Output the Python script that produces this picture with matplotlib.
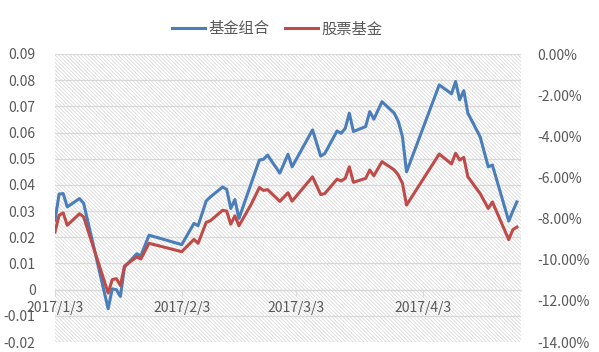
import numpy as np
import matplotlib
matplotlib.use("Agg")
import matplotlib.pyplot as plt
import matplotlib.dates as mdates
from matplotlib.patches import Rectangle
from matplotlib.ticker import FuncFormatter, FixedLocator

plt.rcParams['font.family'] = ['Noto Sans CJK SC', 'DejaVu Sans']
plt.rcParams['hatch.linewidth'] = 0.5

dates = ["2017-01-03", "2017-01-04", "2017-01-05", "2017-01-06", "2017-01-09", "2017-01-10",
         "2017-01-16", "2017-01-17", "2017-01-18", "2017-01-19", "2017-01-20", "2017-01-23",
         "2017-01-24", "2017-01-26", "2017-02-03", "2017-02-06", "2017-02-07", "2017-02-09",
         "2017-02-10", "2017-02-13", "2017-02-14", "2017-02-15", "2017-02-16", "2017-02-17",
         "2017-02-20", "2017-02-22", "2017-02-23", "2017-02-24", "2017-02-27", "2017-03-01",
         "2017-03-02", "2017-03-07", "2017-03-09", "2017-03-10", "2017-03-13", "2017-03-14",
         "2017-03-15", "2017-03-16", "2017-03-17", "2017-03-20", "2017-03-21", "2017-03-22",
         "2017-03-24", "2017-03-27", "2017-03-28", "2017-03-29", "2017-03-30", "2017-04-07",
         "2017-04-10", "2017-04-11", "2017-04-12", "2017-04-13", "2017-04-14", "2017-04-17",
         "2017-04-19", "2017-04-20", "2017-04-24", "2017-04-25", "2017-04-26"]

portfolio = [0.0265, 0.0365, 0.0367, 0.0316, 0.0348, 0.0330,
             -0.0073, 0.0003, 0.0000, -0.0026, 0.0086, 0.0137,
             0.0129, 0.0208, 0.0172, 0.0253, 0.0244, 0.0339,
             0.0354, 0.0392, 0.0383, 0.0310, 0.0344, 0.0272,
             0.0406, 0.0495, 0.0498, 0.0514, 0.0445, 0.0517,
             0.0469, 0.0610, 0.0510, 0.0520, 0.0606, 0.0597,
             0.0616, 0.0674, 0.0604, 0.0623, 0.0680, 0.0651,
             0.0718, 0.0674, 0.0642, 0.0584, 0.0450, 0.0782,
             0.0748, 0.0795, 0.0725, 0.0760, 0.0674, 0.0584,
             0.0469, 0.0476, 0.0262, 0.0300, 0.0335]

stock_fund = [0.0220, 0.0284, 0.0293, 0.0246, 0.0290, 0.0278,
              -0.0013, 0.0038, 0.0042, 0.0016, 0.0090, 0.0125,
              0.0117, 0.0177, 0.0145, 0.0192, 0.0177, 0.0257,
              0.0263, 0.0303, 0.0300, 0.0250, 0.0282, 0.0244,
              0.0326, 0.0390, 0.0379, 0.0382, 0.0337, 0.0370,
              0.0338, 0.0431, 0.0363, 0.0367, 0.0422, 0.0415,
              0.0425, 0.0469, 0.0410, 0.0425, 0.0457, 0.0435,
              0.0489, 0.0457, 0.0437, 0.0406, 0.0323, 0.0518,
              0.0480, 0.0521, 0.0495, 0.0505, 0.0431, 0.0367,
              0.0310, 0.0335, 0.0191, 0.0229, 0.0239]

x_ticks = ["2017-01-03", "2017-02-03", "2017-03-03", "2017-04-03"]
left_ticks = [0.09, 0.08, 0.07, 0.06, 0.05, 0.04, 0.03, 0.02, 0.01, 0, -0.01, -0.02]
right_ticks = [0, -0.02, -0.04, -0.06, -0.08, -0.10, -0.12, -0.14]

blue = "#4A7EBB"
red = "#BE4B48"
grey_txt = "#595959"
grid_c = "#D9D9D9"

x = np.array(dates, dtype="datetime64[D]")

fig = plt.figure(figsize=(5.99, 3.52), dpi=100)
ax = fig.add_axes([55 / 599, 1 - 342 / 352, (521 - 55) / 599, (342 - 54) / 352])

# hatched plot background
ax.add_patch(Rectangle((0, 0), 1, 1, transform=ax.transAxes, facecolor="none",
                       edgecolor="#D4D4D4", hatch="\\" * 9, linewidth=0, zorder=0))

ax.plot(x, portfolio, color=blue, lw=2.2, label="基金组合", zorder=3)
ax.plot(x, stock_fund, color=red, lw=2.2, label="股票基金", zorder=3)

ax.set_ylim(-0.02, 0.09)
ax.set_xlim(np.datetime64("2017-01-03"), np.datetime64("2017-04-27"))
ax.yaxis.set_major_locator(FixedLocator(left_ticks))
ax.yaxis.set_major_formatter(FuncFormatter(lambda v, p: "0" if abs(v) < 1e-9 else f"{v:.2f}"))
ax.grid(axis="y", color=grid_c, lw=0.9, zorder=1)
ax.set_axisbelow(True)

xt = mdates.date2num(np.array(x_ticks, dtype="datetime64[D]"))
ax.xaxis.set_major_locator(FixedLocator(xt))
ax.xaxis.set_major_formatter(FuncFormatter(
    lambda v, p: f"{mdates.num2date(v).year}/{mdates.num2date(v).month}/{mdates.num2date(v).day}"))

for s in ["top", "right", "left"]:
    ax.spines[s].set_visible(False)
ax.spines["bottom"].set_position(("data", 0))
ax.spines["bottom"].set_color(grid_c)
ax.spines["bottom"].set_linewidth(0.9)
ax.tick_params(axis="x", colors=grid_c, length=4, width=0.9, labelcolor=grey_txt,
               labelsize=10, pad=4)
ax.tick_params(axis="y", length=0, labelcolor=grey_txt, labelsize=10, pad=14)

ax2 = ax.twinx()
ax2.set_ylim(-0.14, 0)
ax2.yaxis.set_major_locator(FixedLocator(right_ticks))
ax2.yaxis.set_major_formatter(FuncFormatter(lambda v, p: f"{abs(v) * 100:.2f}%" if abs(v) < 1e-9
                                             else f"{v * 100:.2f}%"))
for s in ax2.spines.values():
    s.set_visible(False)
ax2.tick_params(axis="y", length=0, labelcolor=grey_txt, labelsize=10, pad=12)

h, l = ax.get_legend_handles_labels()
fig.legend(h, l, loc="center", bbox_to_anchor=(277 / 599, 1 - 29 / 352), ncol=2,
           frameon=False, fontsize=11, handlelength=2.2, handletextpad=0.2,
           columnspacing=1.0, labelcolor=grey_txt)

fig.savefig("out.png", dpi=100)
